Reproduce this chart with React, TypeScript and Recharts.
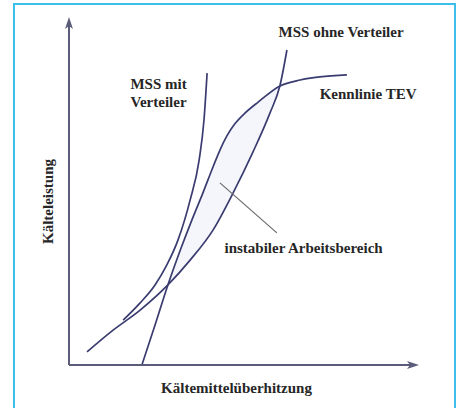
import React from 'react';
import {
  ComposedChart,
  Line,
  Area,
  XAxis,
  YAxis,
  ReferenceLine,
  ReferenceDot,
} from 'recharts';

// curves (x: Kältemittelüberhitzung, y: Kälteleistung, both 0..100)
const mssMitX = [15.6, 20.5, 24.8, 28.2, 31.4, 34.9, 37.5, 38.9, 39.8];
const mssMitY = [13.0, 18.0, 23.2, 29.0, 36.2, 47.8, 59.4, 71.0, 84.6];

const mssOhneX = [5.2, 12.7, 20.5, 28.5, 34.9, 41.5, 47.3, 53.0, 57.9, 60.8, 62.8];
const mssOhneY = [3.8, 10.1, 15.9, 23.2, 30.4, 39.1, 49.9, 61.7, 73.0, 81.0, 91.3];

const tevX = [21.0, 24.8, 28.5, 32.3, 35.4, 38.6, 41.5, 43.5, 45.5, 47.8, 50.7, 54.5, 60.8, 66.6, 72.3, 80.1];
const tevY = [0, 11.6, 23.2, 33.9, 42.0, 49.9, 57.4, 62.3, 66.4, 69.9, 73.0, 76.2, 80.9, 82.6, 83.5, 84.1];

// unstable band between TEV curve (top) and MSS ohne Verteiler (bottom)
const bandX = [28.5, 32.3, 35.4, 38.6, 41.5, 43.5, 45.5, 47.8, 50.7, 54.5, 57.9, 60.8];
const bandLow = [23.2, 27.5, 31.0, 35.5, 39.1, 42.8, 46.5, 50.9, 57.0, 65.0, 73.0, 81.0];
const bandHigh = [23.2, 33.9, 42.0, 49.9, 57.4, 62.3, 66.4, 69.9, 73.0, 76.2, 78.8, 81.0];

const xLabel = 'Kältemittelüberhitzung';
const yLabel = 'Kälteleistung';

const toPoints = (xs: number[], ys: number[]) => xs.map((x, i) => ({ x, y: ys[i] }));

const mssMit = toPoints(mssMitX, mssMitY);
const mssOhne = toPoints(mssOhneX, mssOhneY);
const tev = toPoints(tevX, tevY);
const band = bandX.map((x, i) => ({ x, band: [bandLow[i], bandHigh[i]] }));

const curveColor = '#3a3c70';
const axisColor = '#5b5b7a';
const textStyle = {
  fontFamily: '"Liberation Serif", "Times New Roman", serif',
  fontWeight: 700,
  fontSize: 15,
  fill: '#262626',
};

const note = (value: string) => ({ value, position: 'center' as const, ...textStyle });

export default function App() {
  return (
    <div style={{ position: 'absolute', left: 0, top: 0, width: 459, height: 408, background: '#fff' }}>
      <div
        style={{
          position: 'absolute',
          left: 13,
          top: 3,
          width: 443,
          height: 420,
          boxSizing: 'border-box',
          border: '2px solid #3dbfee',
          borderBottom: 'none',
        }}
      />
      <div style={{ position: 'absolute', left: 0, top: 0 }}>
        <ComposedChart width={459} height={408} margin={{ top: 20, right: 43, left: 0, bottom: 0 }}>
          <defs>
            <marker
              id="arrowHead"
              markerUnits="userSpaceOnUse"
              markerWidth={12}
              markerHeight={8}
              viewBox="0 0 12 8"
              refX={9}
              refY={4}
              orient="auto-start-reverse"
            >
              <path d="M0,0 L12,4 L0,8 L3,4 Z" fill={axisColor} />
            </marker>
          </defs>
          <XAxis
            type="number"
            dataKey="x"
            domain={[0, 100]}
            allowDataOverflow
            height={43}
            tick={false}
            tickLine={false}
            axisLine={{ stroke: axisColor, strokeWidth: 2, markerEnd: 'url(#arrowHead)' }}
            label={{
              content: ({ viewBox }: any) => (
                <text
                  x={viewBox.x + viewBox.width / 2 - 6}
                  y={viewBox.y + 28}
                  textAnchor="middle"
                  style={textStyle}
                >
                  {xLabel}
                </text>
              ),
            }}
          />
          <YAxis
            type="number"
            domain={[0, 100]}
            allowDataOverflow
            width={69}
            tick={false}
            tickLine={false}
            axisLine={{ stroke: axisColor, strokeWidth: 2, markerStart: 'url(#arrowHead)' }}
            label={{
              content: ({ viewBox }: any) => {
                const cx = viewBox.x + 53;
                const cy = viewBox.y + viewBox.height / 2 + 9;
                return (
                  <text
                    x={cx}
                    y={cy}
                    textAnchor="middle"
                    transform={`rotate(-90 ${cx} ${cy})`}
                    style={textStyle}
                  >
                    {yLabel}
                  </text>
                );
              },
            }}
          />
          <Area
            data={band}
            dataKey="band"
            type="monotone"
            stroke="none"
            fill="#edf0fa"
            isAnimationActive={false}
          />
          <Line data={mssMit} dataKey="y" type="monotone" stroke={curveColor} strokeWidth={1.7} dot={false} isAnimationActive={false} />
          <Line data={mssOhne} dataKey="y" type="monotone" stroke={curveColor} strokeWidth={1.7} dot={false} isAnimationActive={false} />
          <Line data={tev} dataKey="y" type="monotone" stroke={curveColor} strokeWidth={1.7} dot={false} isAnimationActive={false} />
          <ReferenceLine
            segment={[{ x: 43.5, y: 52.8 }, { x: 59.9, y: 38.3 }]}
            stroke="#6a6a6a"
            strokeWidth={1.2}
            ifOverflow="visible"
          />
          <ReferenceDot x={25.8} y={81.4} r={0} stroke="none" fill="none" ifOverflow="visible" label={note('MSS mit')} />
          <ReferenceDot x={25.8} y={76.2} r={0} stroke="none" fill="none" ifOverflow="visible" label={note('Verteiler')} />
          <ReferenceDot x={78.4} y={96.7} r={0} stroke="none" fill="none" ifOverflow="visible" label={note('MSS ohne Verteiler')} />
          <ReferenceDot x={86.2} y={78.7} r={0} stroke="none" fill="none" ifOverflow="visible" label={note('Kennlinie TEV')} />
          <ReferenceDot x={67.6} y={33.9} r={0} stroke="none" fill="none" ifOverflow="visible" label={note('instabiler Arbeitsbereich')} />
        </ComposedChart>
      </div>
    </div>
  );
}
